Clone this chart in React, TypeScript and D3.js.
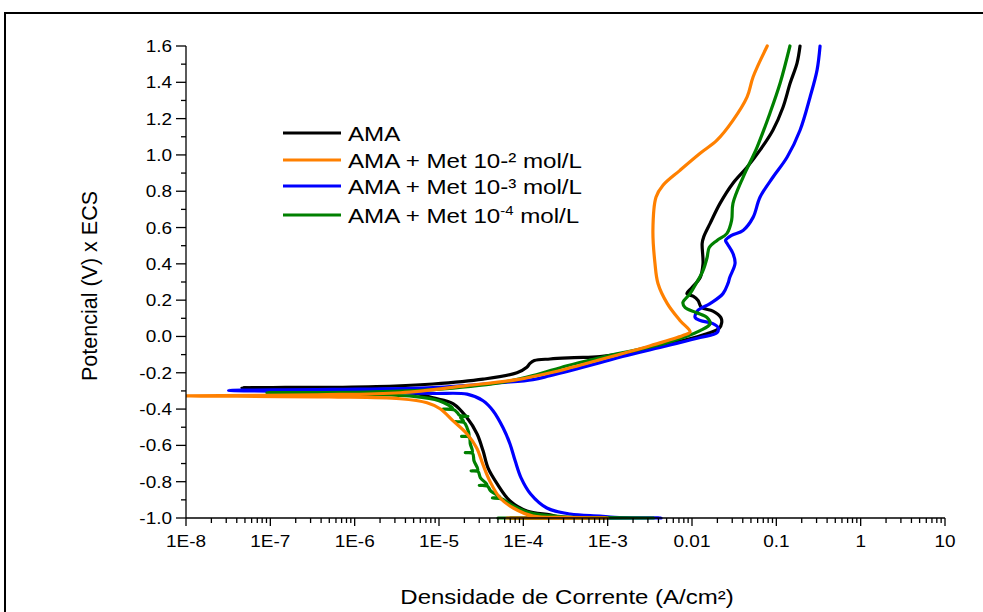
import React from "react";
import * as d3 from "d3";

const W = 983;
const H = 612;

// Polarisation curves: [current density (A/cm²), potential (V vs ECS)] in scan order
const amaCurve: [number, number][] = [
  [7.0e-5, -1.0], [1.0e-3, -1.0], [3.0e-4, -0.997], [2.07e-4, -0.983], [1.1e-4, -0.961],
  [6.95e-5, -0.906], [4.9e-5, -0.812], [3.81e-5, -0.724], [3.33e-5, -0.63], [2.82e-5, -0.536],
  [2.15e-5, -0.448], [1.48e-5, -0.371], [8.5e-6, -0.338], [5.5e-6, -0.315], [1.0e-6, -0.296],
  [1.5e-7, -0.288], [4.6e-8, -0.283], [1.5e-7, -0.281], [5.5e-7, -0.28], [3.0e-6, -0.273],
  [8.5e-6, -0.262], [3.33e-5, -0.235], [8.4e-5, -0.2], [1.1e-4, -0.17], [1.2e-4, -0.148],
  [1.35e-4, -0.133], [2.07e-4, -0.124], [4.0e-4, -0.117], [8.1e-4, -0.111], [2.5e-3, -0.075],
  [7.8e-3, -0.023], [1.5e-2, 0.015], [2.1e-2, 0.045], [2.25e-2, 0.075], [2.2e-2, 0.104],
  [1.77e-2, 0.14], [1.3e-2, 0.159], [1.18e-2, 0.198], [1.03e-2, 0.222], [8.7e-3, 0.236],
  [1.0e-2, 0.27], [1.25e-2, 0.325], [1.35e-2, 0.4], [1.32e-2, 0.513], [1.38e-2, 0.55],
  [1.64e-2, 0.623], [2.15e-2, 0.733], [3.06e-2, 0.844], [4.49e-2, 0.932], [6.4e-2, 1.026],
  [9.1e-2, 1.136], [0.12, 1.263], [0.146, 1.396], [0.176, 1.506], [0.191, 1.6],
];

const met2Curve: [number, number][] = [
  [6.4e-5, -1.0], [1.0e-3, -1.0], [3.0e-4, -0.997], [1.3e-4, -0.989], [7.6e-5, -0.945],
  [5.3e-5, -0.89], [4.0e-5, -0.796], [3.3e-5, -0.702], [2.8e-5, -0.614], [2.15e-5, -0.537],
  [1.47e-5, -0.465], [1.03e-5, -0.398], [7.2e-6, -0.365], [3.45e-6, -0.343], [5.0e-7, -0.333],
  [1.0e-8, -0.327], [3.6e-7, -0.321], [3.5e-6, -0.31], [2.1e-5, -0.271], [8.4e-5, -0.238],
  [2.1e-4, -0.2], [8.1e-4, -0.128], [3.2e-3, -0.051], [7.8e-3, 0.005], [9.5e-3, 0.025],
  [7.2e-3, 0.088], [5.1e-3, 0.181], [3.95e-3, 0.292], [3.64e-3, 0.402], [3.44e-3, 0.584],
  [3.74e-3, 0.767], [4.53e-3, 0.833], [7.2e-3, 0.915], [1.25e-2, 1.009], [1.98e-2, 1.081],
  [3.06e-2, 1.19], [4.49e-2, 1.318], [5.3e-2, 1.429], [7.8e-2, 1.6],
];

const met3Curve: [number, number][] = [
  [2.0e-4, -1.0], [4.3e-3, -1.0], [1.2e-3, -0.996], [8.1e-4, -0.989], [3.6e-4, -0.978],
  [1.9e-4, -0.945], [1.22e-4, -0.868], [9.4e-5, -0.779], [8.0e-5, -0.685], [6.95e-5, -0.592],
  [5.75e-5, -0.503], [4.37e-5, -0.409], [3.33e-5, -0.354], [2.15e-5, -0.318], [8.5e-6, -0.314],
  [1.0e-6, -0.306], [3.2e-8, -0.297], [5.5e-7, -0.292], [8.5e-6, -0.282], [5.3e-5, -0.255],
  [1.3e-4, -0.238], [2.07e-4, -0.216], [8.1e-4, -0.144], [1.5e-3, -0.11], [5.06e-3, -0.051],
  [1.25e-2, -0.006], [1.98e-2, 0.021], [2.04e-2, 0.049], [1.77e-2, 0.071], [1.25e-2, 0.088],
  [1.09e-2, 0.104], [1.17e-2, 0.143], [1.64e-2, 0.181], [2.33e-2, 0.236], [2.67e-2, 0.292],
  [2.8e-2, 0.325], [3.24e-2, 0.402], [3.06e-2, 0.457], [2.6e-2, 0.513], [2.5e-2, 0.529],
  [2.95e-2, 0.557], [4.03e-2, 0.584], [5.3e-2, 0.656], [6.4e-2, 0.767], [9.1e-2, 0.877],
  [0.134, 0.987], [0.191, 1.136], [0.251, 1.318], [0.304, 1.467], [0.33, 1.6],
];

// the cathodic branch of this run is noisy: short excursions towards lower current
const met4Curve: [number, number][] = [
  [5.0e-5, -1.0], [3.5e-3, -1.0], [8.0e-4, -0.998], [3.0e-4, -0.993], [1.2e-4, -0.972],
  [6.95e-5, -0.923], [5.5e-5, -0.894], [4.3e-5, -0.89], [5.3e-5, -0.886], [4.1e-5, -0.851],
  [3.75e-5, -0.824], [3.0e-5, -0.82], [3.7e-5, -0.816], [3.1e-5, -0.779], [2.9e-5, -0.744],
  [2.4e-5, -0.74], [2.88e-5, -0.736], [2.6e-5, -0.685], [2.5e-5, -0.644], [2.05e-5, -0.64],
  [2.48e-5, -0.636], [2.35e-5, -0.592], [2.28e-5, -0.554], [1.85e-5, -0.55], [2.26e-5, -0.546],
  [2.15e-5, -0.503], [1.98e-5, -0.474], [1.55e-5, -0.47], [1.95e-5, -0.466], [1.8e-5, -0.445],
  [2.2e-5, -0.44], [1.76e-5, -0.435], [1.65e-5, -0.42], [1.5e-5, -0.404], [1.1e-5, -0.4],
  [1.45e-5, -0.396], [1.0e-5, -0.354], [5.0e-6, -0.33], [5.0e-7, -0.316], [9.1e-8, -0.31],
  [1.4e-6, -0.306], [8.5e-6, -0.293], [5.3e-5, -0.255], [1.3e-4, -0.216], [3.3e-4, -0.161],
  [8.1e-4, -0.117], [5.06e-3, -0.034], [1.25e-2, 0.032], [1.64e-2, 0.07], [1.51e-2, 0.104],
  [1.12e-2, 0.132], [8.3e-3, 0.159], [7.8e-3, 0.187], [9.5e-3, 0.236], [1.12e-2, 0.292],
  [1.35e-2, 0.363], [1.51e-2, 0.435], [1.6e-2, 0.49], [1.98e-2, 0.529], [2.6e-2, 0.568],
  [2.95e-2, 0.639], [3.06e-2, 0.733], [4.03e-2, 0.877], [5.9e-2, 1.042], [8.4e-2, 1.23],
  [0.111, 1.396], [0.145, 1.6],
];

const seriesLabels = ["AMA", "AMA + Met 10-² mol/L", "AMA + Met 10-³ mol/L", "AMA + Met 10"];
const seriesColors = ["#000000", "#ff8000", "#0000ff", "#008000"];
const seriesData = [amaCurve, met2Curve, met3Curve, met4Curve];
// drawing order: black, blue, green, orange on top
const drawOrder = [0, 2, 3, 1];

const xTickValues = [1e-8, 1e-7, 1e-6, 1e-5, 1e-4, 1e-3, 1e-2, 1e-1, 1, 10];
const xTickLabels = ["1E-8", "1E-7", "1E-6", "1E-5", "1E-4", "1E-3", "0.01", "0.1", "1", "10"];
const yMajorSteps = d3.range(-10, 17, 2); // tenths of a volt
const yMinorSteps = d3.range(-9, 16, 2);

const FONT = "'Liberation Sans', Arial, Helvetica, sans-serif";

const left = 186;
const right = 945;
const top = 46;
const bottom = 518;

export default function App() {
  const x = d3.scaleLog().domain([1e-8, 10]).range([left, right]);
  const y = d3.scaleLinear().domain([-1.0, 1.6]).range([bottom, top]);

  const line = d3
    .line<[number, number]>()
    .x((d) => x(d[0]))
    .y((d) => y(d[1]))
    .curve(d3.curveCatmullRom.alpha(0.5));

  const minorX: number[] = [];
  for (let e = -8; e < 1; e++) {
    for (let k = 2; k <= 9; k++) minorX.push(k * Math.pow(10, e));
  }

  const legendRows = [133, 160, 186, 215];

  return (
    <svg
      width={W}
      height={H}
      style={{ position: "absolute", left: 0, top: 0, background: "#fff" }}
      fontFamily={FONT}
    >
      <rect x={0} y={0} width={W} height={H} fill="#fff" />
      <rect x={5} y={13} width={W + 20} height={H + 20} fill="none" stroke="#000" strokeWidth={2} />

      <defs>
        <clipPath id="plotArea">
          <rect x={left} y={top - 2} width={right - left} height={bottom - top + 6} />
        </clipPath>
      </defs>

      {/* curves */}
      <g clipPath="url(#plotArea)" fill="none" strokeLinejoin="round" strokeLinecap="round">
        {drawOrder.map((i) => (
          <path key={i} d={line(seriesData[i]) || ""} stroke={seriesColors[i]} strokeWidth={3.2} />
        ))}
      </g>

      {/* y axis */}
      <g stroke="#000" strokeWidth={1.3}>
        <line x1={left} x2={left} y1={top} y2={bottom} />
        {yMajorSteps.map((s) => (
          <line key={"M" + s} x1={left - 10} x2={left} y1={y(s / 10)} y2={y(s / 10)} />
        ))}
        {yMinorSteps.map((s) => (
          <line key={"m" + s} x1={left - 5} x2={left} y1={y(s / 10)} y2={y(s / 10)} />
        ))}
      </g>
      <g fontSize={16.5} fill="#000">
        {yMajorSteps.map((s) => (
          <text
            key={"t" + s}
            transform={`translate(${left - 14},${y(s / 10) + 6}) scale(1.15,1)`}
            textAnchor="end"
          >
            {(s / 10).toFixed(1)}
          </text>
        ))}
      </g>

      {/* x axis */}
      <g stroke="#000" strokeWidth={1.3}>
        <line x1={left} x2={right} y1={bottom} y2={bottom} />
        {xTickValues.map((v) => (
          <line key={"M" + v} x1={x(v)} x2={x(v)} y1={bottom} y2={bottom + 8} />
        ))}
        {minorX.map((v) => (
          <line key={"m" + v} x1={x(v)} x2={x(v)} y1={bottom} y2={bottom + 5} />
        ))}
      </g>
      <g fontSize={16.5} fill="#000">
        {xTickValues.map((v, i) => (
          <text
            key={"xt" + v}
            transform={`translate(${x(v)},547) scale(1.15,1)`}
            textAnchor="middle"
          >
            {xTickLabels[i]}
          </text>
        ))}
      </g>

      {/* axis titles */}
      <text
        transform="translate(567,604) scale(1.2,1)"
        textAnchor="middle"
        fontSize={20}
        fill="#000"
      >
        Densidade de Corrente (A/cm²)
      </text>
      <text
        transform="translate(97,286) rotate(-90)"
        textAnchor="middle"
        fontSize={21.5}
        fill="#000"
      >
        Potencial (V) x ECS
      </text>

      {/* legend */}
      <g>
        {seriesLabels.map((lab, i) => (
          <g key={lab}>
            <line
              x1={283}
              x2={341}
              y1={legendRows[i]}
              y2={legendRows[i]}
              stroke={seriesColors[i]}
              strokeWidth={3}
            />
            <text
              transform={`translate(348,${legendRows[i] + 8}) scale(1.15,1)`}
              fontSize={21}
              fill="#000"
            >
              {lab}
              {i === 3 ? (
                <>
                  <tspan fontSize={13} dy={-8}>-4</tspan>
                  <tspan dy={8}> mol/L</tspan>
                </>
              ) : null}
            </text>
          </g>
        ))}
      </g>
    </svg>
  );
}
